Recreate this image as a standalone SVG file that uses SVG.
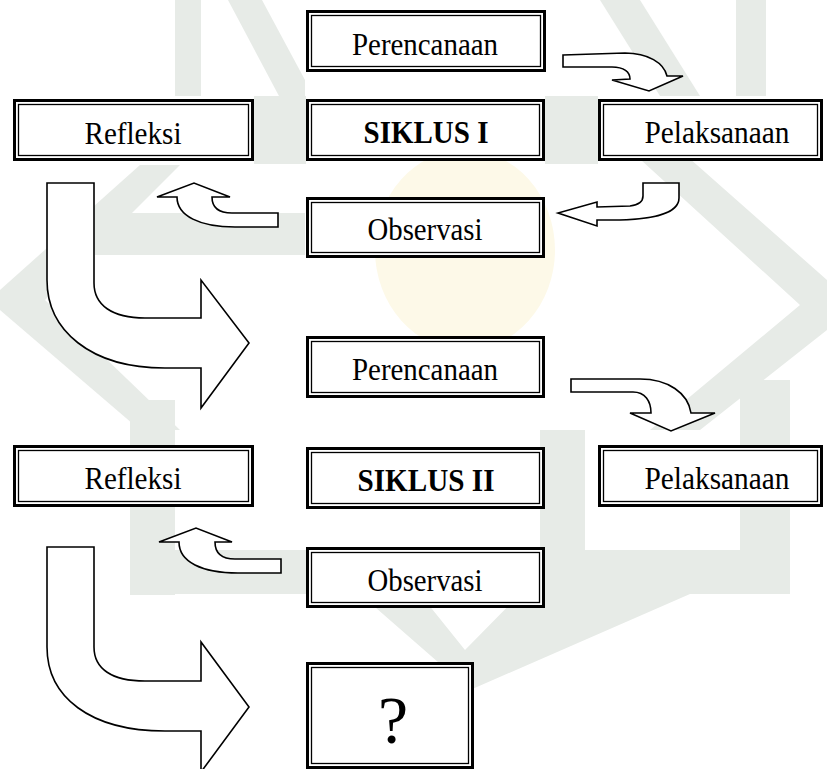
<svg xmlns="http://www.w3.org/2000/svg" width="827" height="769" viewBox="0 0 827 769">
<style>
.wm{fill:#e7ebe7;stroke:none}
.wy{fill:#fdf9e8;stroke:none}
.ob{fill:#fff;stroke:#000;stroke-width:3}
.ib{fill:none;stroke:#000;stroke-width:1.3}
.t{font-family:'Liberation Serif','Times New Roman',serif;font-size:31px;fill:#000;text-anchor:middle}
.b{font-weight:bold}
.q{font-size:68px}
.ar{fill:#fff;stroke:#000;stroke-width:1.6;stroke-linejoin:miter}
</style>
<rect width="827" height="769" fill="#fff"/>
<g id="watermark">
<rect class="wm" x="175" y="0" width="26" height="96"/>
<polygon class="wm" points="228,0 262,0 305,80 305,98 280,98"/>
<rect class="wm" x="254" y="96" width="52" height="68"/>
<rect class="wm" x="545" y="96" width="53" height="68"/>
<rect class="wm" x="736" y="0" width="30" height="96"/>
<polygon class="wm" points="600,0 640,0 700,96 660,96"/>
<polygon class="wm" points="140,165 180,165 45,300 180,430 140,430 0,310 0,290"/>
<rect class="wm" x="95" y="213" width="210" height="42"/>
<polygon class="wm" points="630,150 680,150 827,280 827,330 700,430 650,430 800,305"/>
<rect class="wm" x="130" y="400" width="45" height="195"/>
<rect class="wm" x="540" y="430" width="45" height="165"/>
<rect class="wm" x="740" y="380" width="50" height="210"/>
<rect class="wm" x="130" y="550" width="660" height="44"/>
<polygon class="wm" points="360,594 420,594 465,650 520,594 690,594 470,690"/>
<ellipse class="wy" cx="465" cy="250" rx="90" ry="100"/>
</g>
<g id="connectors">
<path class="ar" d="M563,55 L625,53 C648,53 664,63 667,76 L683,76 L649,91 L612,80 L630,79 C630,72 624,67 612,67 L563,67 Z"/>
<path class="ar" d="M643,183 L679,183 L679,198 C679,214 650,220 612,220 L597,220 L597,226 L558,213 L597,202 L597,207 L630,206 C639,205 643,202 643,196 Z"/>
<path class="ar" d="M278,213 L232,213 C218,213 212,207 212,197 L230,197 L194,183 L157,197 L177,197 C177,216 200,227 235,227 L278,227 Z"/>
<path class="ar" d="M47,183 L94,183 L94,283 C94,305 112,318 145,318 L201,318 L201,280 L249,343 L201,408 L201,368 L165,368 C90,368 47,330 47,280 Z"/>
<path class="ar" d="M571,379 L640,379 C668,379 688,393 691,413 L715,413 L671,431 L630,413 L651,413 C651,401 645,392 633,392 L571,392 Z"/>
<path class="ar" d="M281,559 L235,559 C221,559 215,553 215,542 L232,542 L196,528 L159,542 L179,542 C179,562 202,573 238,573 L281,573 Z"/>
<path class="ar" d="M47,547 L94,547 L94,647 C94,669 112,681 145,681 L201,681 L201,642 L249,707 L201,772 L201,731 L165,731 C90,731 47,697 47,647 Z"/>
</g>
<g id="perencanaan1">
<rect class="ob" x="307.5" y="11.5" width="237" height="59"/>
<rect class="ib" x="311.5" y="15.5" width="229" height="51"/>
<text class="t" x="425" y="55" textLength="146" lengthAdjust="spacingAndGlyphs">Perencanaan</text>
</g>
<g id="refleksi1">
<rect class="ob" x="14.5" y="100.5" width="238" height="59"/>
<rect class="ib" x="18.5" y="104.5" width="230" height="51"/>
<text class="t" x="133" y="144" textLength="97" lengthAdjust="spacingAndGlyphs">Refleksi</text>
</g>
<g id="siklus1">
<rect class="ob" x="307.5" y="100.5" width="236" height="59"/>
<rect class="ib" x="311.5" y="104.5" width="228" height="51"/>
<text class="t b" x="426" y="143" textLength="125" lengthAdjust="spacingAndGlyphs">SIKLUS I</text>
</g>
<g id="pelaksanaan1">
<rect class="ob" x="599.5" y="100.5" width="222" height="59"/>
<rect class="ib" x="603.5" y="104.5" width="214" height="51"/>
<text class="t" x="717" y="143" textLength="145" lengthAdjust="spacingAndGlyphs">Pelaksanaan</text>
</g>
<g id="observasi1">
<rect class="ob" x="307.5" y="198.5" width="236" height="58"/>
<rect class="ib" x="311.5" y="202.5" width="228" height="50"/>
<text class="t" x="425" y="240" textLength="115" lengthAdjust="spacingAndGlyphs">Observasi</text>
</g>
<g id="perencanaan2">
<rect class="ob" x="307.5" y="337.5" width="236" height="59"/>
<rect class="ib" x="311.5" y="341.5" width="228" height="51"/>
<text class="t" x="425" y="380" textLength="146" lengthAdjust="spacingAndGlyphs">Perencanaan</text>
</g>
<g id="refleksi2">
<rect class="ob" x="14.5" y="446.5" width="238" height="59"/>
<rect class="ib" x="18.5" y="450.5" width="230" height="51"/>
<text class="t" x="133" y="489" textLength="97" lengthAdjust="spacingAndGlyphs">Refleksi</text>
</g>
<g id="siklus2">
<rect class="ob" x="307.5" y="448.5" width="236" height="59"/>
<rect class="ib" x="311.5" y="452.5" width="228" height="51"/>
<text class="t b" x="426" y="491" textLength="137" lengthAdjust="spacingAndGlyphs">SIKLUS II</text>
</g>
<g id="pelaksanaan2">
<rect class="ob" x="599.5" y="446.5" width="222" height="59"/>
<rect class="ib" x="603.5" y="450.5" width="214" height="51"/>
<text class="t" x="717" y="489" textLength="145" lengthAdjust="spacingAndGlyphs">Pelaksanaan</text>
</g>
<g id="observasi2">
<rect class="ob" x="307.5" y="548.5" width="236" height="58"/>
<rect class="ib" x="311.5" y="552.5" width="228" height="50"/>
<text class="t" x="425" y="591" textLength="115" lengthAdjust="spacingAndGlyphs">Observasi</text>
</g>
<g id="unknown">
<rect class="ob" x="307.5" y="663.5" width="165" height="104"/>
<rect class="ib" x="311.5" y="667.5" width="157" height="96"/>
<text class="t q" x="393" y="743">?</text>
</g>
</svg>
